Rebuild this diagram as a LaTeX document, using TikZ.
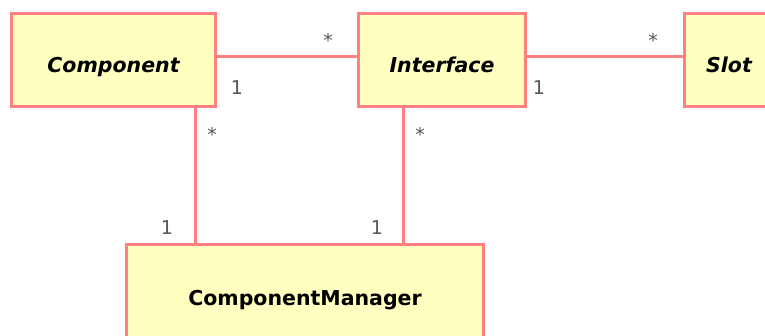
\documentclass[tikz,border=0pt]{standalone}
\usepackage{fontspec}
\setmainfont{DejaVu Sans}
\definecolor{boxline}{HTML}{FF8080}
\definecolor{boxfill}{HTML}{FFFFC0}
\definecolor{multgray}{HTML}{555555}
\begin{document}
\begin{tikzpicture}[x=1pt,y=-1pt,
  classbox/.style={draw=boxline, fill=boxfill, line width=3pt, inner sep=0pt,
    minimum height=93pt, text height=26pt, text depth=0pt,
    font=\fontsize{20.5}{24}\selectfont\bfseries},
  abstract/.style={font=\fontsize{20.5}{24}\selectfont\bfseries\itshape},
  assoc/.style={draw=boxline, line width=3pt},
  mult/.style={text=multgray, inner sep=0pt, anchor=base,
    font=\fontsize{19}{22}\selectfont}]
\clip (0,0) rectangle (765,336);
\useasboundingbox (0,0) rectangle (765,336);
\fill[white] (0,0) rectangle (765,336);

% classes
\node[classbox, abstract, minimum width=204pt] (comp) at (113.5,60) {Component};
\node[classbox, abstract, minimum width=167pt] (iface) at (442,60) {Interface};
\node[classbox, abstract, minimum width=89pt] (slot) at (729,60) {Slot};
\node[classbox, minimum width=357pt, minimum height=96pt] (mgr) at (305,292.5) {ComponentManager};

% associations
\draw[assoc] ([yshift=3pt]comp.east) -- ([yshift=3pt]iface.west);
\draw[assoc] ([yshift=3pt]iface.east) -- ([yshift=3pt]slot.west);
\draw[assoc] ([xshift=70pt]mgr.north west |- comp.south) -- ([xshift=70pt]mgr.north west);
\draw[assoc] ([xshift=-39pt]iface.south) -- ([xshift=-39pt]iface.south |- mgr.north);

% multiplicities
\node[mult] (m1) at (328,48) {*};
\node[mult] (m2) at (237,94.5) {1};
\node[mult] (m3) at (653,48) {*};
\node[mult] (m4) at (539,94.5) {1};
\node[mult] (m5) at (212,142) {*};
\node[mult] (m6) at (420,142) {*};
\node[mult] (m7) at (167,234.5) {1};
\node[mult] (m8) at (377,234.5) {1};
\end{tikzpicture}
\end{document}
